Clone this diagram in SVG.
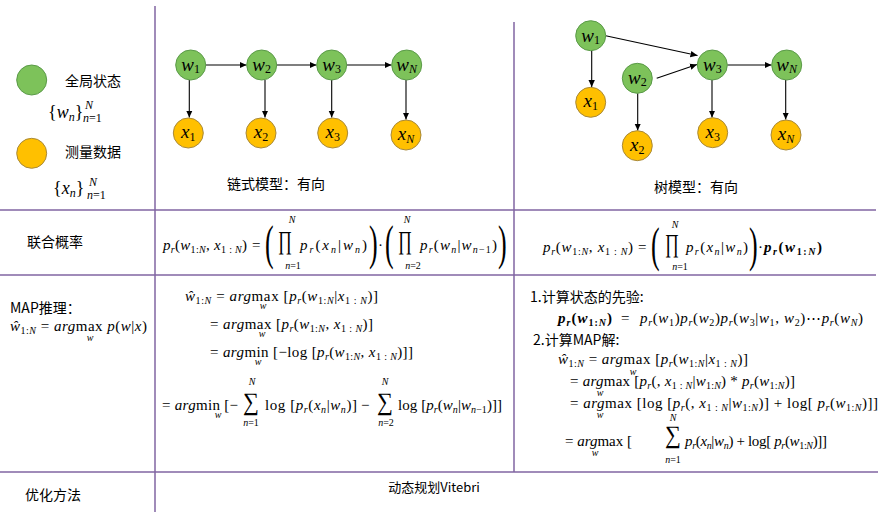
<svg xmlns="http://www.w3.org/2000/svg" width="888" height="512" viewBox="0 0 888 512">
<defs>
<style>
.ln{stroke:#8064A2;stroke-width:1.5;fill:none}
.g{fill:#7DC25A;stroke:#5A9A48;stroke-width:1}
.o{fill:#FFC000;stroke:#A8893A;stroke-width:1}
.ar{stroke:#000;stroke-width:1.1;fill:none;marker-end:url(#ah)}
.cn{font-family:"Noto Sans CJK SC","Noto Sans",sans-serif;font-size:14px;fill:#000}
.m{font-family:"Liberation Serif",serif;font-style:italic;font-size:15px;fill:#000}
.u{font-style:normal}
.b{font-weight:bold}
.s{font-size:10px}
.nl{font-family:"Liberation Serif",serif;font-style:italic;font-size:19px;fill:#000}
.ns{font-size:12px;font-style:normal}
.big{font-family:"Liberation Serif",serif;font-size:52px;fill:#000}
.op{font-family:"Liberation Serif",serif;font-size:36px;fill:#000}
.lim{font-family:"Liberation Serif",serif;font-style:italic;font-size:10px;fill:#000}
</style>
<marker id="ah" markerWidth="8" markerHeight="8" refX="7" refY="4" orient="auto" markerUnits="userSpaceOnUse">
<path d="M0,0.8 L7,4 L0,7.2 Z" fill="#000"/>
</marker>
</defs>
<rect width="888" height="512" fill="#fff"/>

<g id="grid">
<path class="ln" d="M155 6 V512"/>
<path class="ln" d="M514 22 V472"/>
<path class="ln" d="M0 210 H876"/>
<path class="ln" d="M0 275 H876"/>
<path class="ln" d="M0 472 H878"/>
</g>

<g id="legend">
<g id="legend-w"><circle class="g" cx="31.7" cy="80" r="15"/><text class="cn" x="65" y="86">全局状态</text>
<text class="m" style="font-size:18px" x="48" y="118"><tspan class="u">{</tspan>w<tspan style="font-size:12px" dy="3">n</tspan><tspan class="u" dy="-3">}</tspan></text>
<text class="m" style="font-size:12px" x="85" y="109">N</text>
<text class="m" style="font-size:12px" x="83" y="122">n<tspan class="u">=1</tspan></text></g>
<g id="legend-x"><circle class="o" cx="31.7" cy="153.3" r="15"/><text class="cn" x="65" y="157">测量数据</text>
<text class="m" style="font-size:18px" x="53" y="194"><tspan class="u">{</tspan>x<tspan style="font-size:12px" dy="3">n</tspan><tspan class="u" dy="-3">}</tspan></text>
<text class="m" style="font-size:12px" x="89" y="186">N</text>
<text class="m" style="font-size:12px" x="87" y="199">n<tspan class="u">=1</tspan></text></g>
</g>

<g id="connectors">
<path class="ar" d="M206 65 H246.5"/>
<path class="ar" d="M277 65 H316.5"/>
<path class="ar" d="M347 65 H391.5"/>
<path class="ar" d="M189.3 80 V117.5"/>
<path class="ar" d="M265 80 V117.5"/>
<path class="ar" d="M331.7 80 V117.5"/>
<path class="ar" d="M406 80 V119.5"/>
<path class="ar" d="M605.7 35.7 L697.5 55.5"/>
<path class="ar" d="M656.7 78.3 L697 64.5"/>
<path class="ar" d="M727.3 65 H771.5"/>
<path class="ar" d="M591.7 50.7 V87"/>
<path class="ar" d="M637.7 93.3 V130.5"/>
<path class="ar" d="M712 80 V117.5"/>
<path class="ar" d="M785.7 80 V119.5"/>
</g>

<g id="chain-w1"><circle class="g" cx="190.7" cy="65" r="15"/><text class="nl" x="190.7" y="71" text-anchor="middle">w<tspan class="ns" dy="2">1</tspan></text></g>
<g id="chain-w2"><circle class="g" cx="261.7" cy="65" r="15"/><text class="nl" x="261.7" y="71" text-anchor="middle">w<tspan class="ns" dy="2">2</tspan></text></g>
<g id="chain-w3"><circle class="g" cx="331.7" cy="65" r="15"/><text class="nl" x="331.7" y="71" text-anchor="middle">w<tspan class="ns" dy="2">3</tspan></text></g>
<g id="chain-wN"><circle class="g" cx="406.7" cy="65" r="15"/><text class="nl" x="406.7" y="71" text-anchor="middle">w<tspan class="ns" dy="2" style="font-style:italic">N</tspan></text></g>
<g id="chain-x1"><circle class="o" cx="188.3" cy="133" r="15"/><text class="nl" x="188.3" y="138" text-anchor="middle">x<tspan class="ns" dy="3">1</tspan></text></g>
<g id="chain-x2"><circle class="o" cx="261" cy="133" r="15"/><text class="nl" x="261" y="138" text-anchor="middle">x<tspan class="ns" dy="3">2</tspan></text></g>
<g id="chain-x3"><circle class="o" cx="332.7" cy="133" r="15"/><text class="nl" x="332.7" y="138" text-anchor="middle">x<tspan class="ns" dy="3">3</tspan></text></g>
<g id="chain-xN"><circle class="o" cx="406" cy="135" r="15"/><text class="nl" x="406" y="140" text-anchor="middle">x<tspan class="ns" dy="3" style="font-style:italic">N</tspan></text></g>
<text class="cn" x="227" y="189">链式模型：有向</text>

<g id="tree-w1"><circle class="g" cx="590.7" cy="35.7" r="15"/><text class="nl" x="590.7" y="41.7" text-anchor="middle">w<tspan class="ns" dy="2">1</tspan></text></g>
<g id="tree-w2"><circle class="g" cx="637.3" cy="78.3" r="15"/><text class="nl" x="637.3" y="84.3" text-anchor="middle">w<tspan class="ns" dy="2">2</tspan></text></g>
<g id="tree-w3"><circle class="g" cx="712.3" cy="65" r="15"/><text class="nl" x="712.3" y="71" text-anchor="middle">w<tspan class="ns" dy="2">3</tspan></text></g>
<g id="tree-wN"><circle class="g" cx="786.7" cy="65" r="15"/><text class="nl" x="786.7" y="71" text-anchor="middle">w<tspan class="ns" dy="2" style="font-style:italic">N</tspan></text></g>
<g id="tree-x1"><circle class="o" cx="590.7" cy="102.3" r="15"/><text class="nl" x="590.7" y="107.3" text-anchor="middle">x<tspan class="ns" dy="3">1</tspan></text></g>
<g id="tree-x2"><circle class="o" cx="637.3" cy="145.7" r="15"/><text class="nl" x="637.3" y="150.7" text-anchor="middle">x<tspan class="ns" dy="3">2</tspan></text></g>
<g id="tree-x3"><circle class="o" cx="712.7" cy="132.7" r="15"/><text class="nl" x="712.7" y="137.7" text-anchor="middle">x<tspan class="ns" dy="3">3</tspan></text></g>
<g id="tree-xN"><circle class="o" cx="786" cy="135" r="15"/><text class="nl" x="786" y="140" text-anchor="middle">x<tspan class="ns" dy="3" style="font-style:italic">N</tspan></text></g>
<text class="cn" x="654" y="192">树模型：有向</text>

<g id="joint">
<text class="cn" x="27" y="247">联合概率</text>
<text class="m" x="163" y="250" textLength="84">p<tspan class="s" dy="3">r</tspan><tspan class="u" dy="-3">(</tspan>w<tspan class="s" dy="3"><tspan class="u">1:</tspan>N</tspan><tspan class="u" dy="-3">, </tspan>x<tspan class="s" dy="3"><tspan class="u">1 : </tspan>N</tspan><tspan class="u" dy="-3">)</tspan></text>
<text class="m u" x="252" y="250">=</text>
<text class="big" transform="translate(265,259) scale(0.5,0.95)">(</text>
<text class="op" transform="translate(278,249) scale(0.47,0.72)">∏</text>
<text class="lim" x="292" y="223" text-anchor="middle">N</text>
<text class="lim" x="293" y="269" text-anchor="middle">n<tspan class="u">=1</tspan></text>
<text class="m" x="300" y="250" textLength="67">p<tspan class="s" dy="3">r</tspan><tspan class="u" dy="-3">(</tspan>x<tspan class="s" dy="3">n</tspan><tspan class="u" dy="-3">|</tspan>w<tspan class="s" dy="3">n</tspan><tspan class="u" dy="-3">)</tspan></text>
<text class="big" transform="translate(369,259) scale(0.5,0.95)">)</text>
<text class="m u" x="378" y="250">·</text>
<text class="big" transform="translate(385,259) scale(0.5,0.95)">(</text>
<text class="op" transform="translate(398,249) scale(0.47,0.72)">∏</text>
<text class="lim" x="407" y="223" text-anchor="middle">N</text>
<text class="lim" x="413" y="269" text-anchor="middle">n<tspan class="u">=2</tspan></text>
<text class="m" x="420" y="250" textLength="77">p<tspan class="s" dy="3">r</tspan><tspan class="u" dy="-3">(</tspan>w<tspan class="s" dy="3">n</tspan><tspan class="u" dy="-3">|</tspan>w<tspan class="s" dy="3">n<tspan class="u">−1</tspan></tspan><tspan class="u" dy="-3">)</tspan></text>
<text class="big" transform="translate(498,259) scale(0.5,0.95)">)</text>

<text class="m" x="543" y="252" textLength="90">p<tspan class="s" dy="3">r</tspan><tspan class="u" dy="-3">(</tspan>w<tspan class="s" dy="3"><tspan class="u">1:</tspan>N</tspan><tspan class="u" dy="-3">, </tspan>x<tspan class="s" dy="3"><tspan class="u">1 : </tspan>N</tspan><tspan class="u" dy="-3">)</tspan></text>
<text class="m u" x="638" y="252">=</text>
<text class="big" transform="translate(651,261) scale(0.5,0.95)">(</text>
<text class="op" transform="translate(665,251.5) scale(0.47,0.72)">∏</text>
<text class="lim" x="675" y="228" text-anchor="middle">N</text>
<text class="lim" x="680" y="270" text-anchor="middle">n<tspan class="u">=1</tspan></text>
<text class="m" x="686" y="252" textLength="62">p<tspan class="s" dy="3">r</tspan><tspan class="u" dy="-3">(</tspan>x<tspan class="s" dy="3">n</tspan><tspan class="u" dy="-3">|</tspan>w<tspan class="s" dy="3">n</tspan><tspan class="u" dy="-3">)</tspan></text>
<text class="big" transform="translate(749,261) scale(0.5,0.95)">)</text>
<text class="m u" x="758" y="252">·</text>
<text class="m b" x="764" y="252" textLength="58">p<tspan class="s" dy="3">r</tspan><tspan class="u" dy="-3">(</tspan>w<tspan class="s" dy="3"><tspan class="u">1:</tspan>N</tspan><tspan class="u" dy="-3">)</tspan></text>
</g>

<g id="map-left">
<text class="cn" x="10" y="313">MAP推理：</text>
<text class="m" x="10" y="331" textLength="137">ŵ<tspan class="s" dy="3"><tspan class="u">1:</tspan>N</tspan><tspan dy="-3" class="u"> = </tspan>arg<tspan class="u">max </tspan>p<tspan class="u">(</tspan>w<tspan class="u">|</tspan>x<tspan class="u">)</tspan></text>
<text class="lim" x="90" y="341" text-anchor="middle">w</text>
</g>

<g id="map-chain">
<text class="m" x="185" y="301" textLength="193">ŵ<tspan class="s" dy="3"><tspan class="u">1:</tspan>N</tspan><tspan dy="-3" class="u"> = </tspan>arg<tspan class="u">max [</tspan>p<tspan class="s" dy="3">r</tspan><tspan class="u" dy="-3">(</tspan>w<tspan class="s" dy="3"><tspan class="u">1:</tspan>N</tspan><tspan class="u" dy="-3">|</tspan>x<tspan class="s" dy="3"><tspan class="u">1 : </tspan>N</tspan><tspan class="u" dy="-3">)]</tspan></text>
<text class="lim" x="263" y="309" text-anchor="middle">w</text>
<text class="m" x="210" y="329" textLength="163"><tspan class="u">= </tspan>arg<tspan class="u">max [</tspan>p<tspan class="s" dy="3">r</tspan><tspan class="u" dy="-3">(</tspan>w<tspan class="s" dy="3"><tspan class="u">1:</tspan>N</tspan><tspan class="u" dy="-3">, </tspan>x<tspan class="s" dy="3"><tspan class="u">1 : </tspan>N</tspan><tspan class="u" dy="-3">)]</tspan></text>
<text class="lim" x="262" y="337" text-anchor="middle">w</text>
<text class="m" x="210" y="357" textLength="203"><tspan class="u">= </tspan>arg<tspan class="u">min [−log [</tspan>p<tspan class="s" dy="3">r</tspan><tspan class="u" dy="-3">(</tspan>w<tspan class="s" dy="3"><tspan class="u">1:</tspan>N</tspan><tspan class="u" dy="-3">, </tspan>x<tspan class="s" dy="3"><tspan class="u">1 : </tspan>N</tspan><tspan class="u" dy="-3">)]]</tspan></text>
<text class="lim" x="258" y="365" text-anchor="middle">w</text>
<text class="m" x="162" y="410" textLength="76"><tspan class="u">= </tspan>arg<tspan class="u">min [−</tspan></text>
<text class="lim" x="218" y="418" text-anchor="middle">w</text>
<text class="op" transform="translate(243,410) scale(0.62,0.7)">∑</text>
<text class="lim" x="252" y="385" text-anchor="middle">N</text>
<text class="lim" x="251" y="426" text-anchor="middle">n<tspan class="u">=1</tspan></text>
<text class="m" x="265" y="410" textLength="92"><tspan class="u">log [</tspan>p<tspan class="s" dy="3">r</tspan><tspan class="u" dy="-3">(</tspan>x<tspan class="s" dy="3">n</tspan><tspan class="u" dy="-3">|</tspan>w<tspan class="s" dy="3">n</tspan><tspan class="u" dy="-3">)]</tspan></text>
<text class="m u" x="361" y="410">−</text>
<text class="op" transform="translate(377,410) scale(0.62,0.7)">∑</text>
<text class="lim" x="385" y="385" text-anchor="middle">N</text>
<text class="lim" x="386" y="426" text-anchor="middle">n<tspan class="u">=2</tspan></text>
<text class="m" x="398" y="410" textLength="104"><tspan class="u">log [</tspan>p<tspan class="s" dy="3">r</tspan><tspan class="u" dy="-3">(</tspan>w<tspan class="s" dy="3">n</tspan><tspan class="u" dy="-3">|</tspan>w<tspan class="s" dy="3">n<tspan class="u">−1</tspan></tspan><tspan class="u" dy="-3">)]]</tspan></text>
</g>

<g id="map-tree">
<text class="cn" x="530" y="302">1.计算状态的先验:</text>
<text class="m b" x="558" y="323" textLength="54">p<tspan class="s" dy="3">r</tspan><tspan class="u" dy="-3">(</tspan>w<tspan class="s" dy="3"><tspan class="u">1:</tspan>N</tspan><tspan class="u" dy="-3">)</tspan></text>
<text class="m u" x="621" y="323">=</text>
<text class="m" x="640" y="323" textLength="223">p<tspan class="s" dy="3">r</tspan><tspan class="u" dy="-3">(</tspan>w<tspan class="s u" dy="3">1</tspan><tspan class="u" dy="-3">)</tspan>p<tspan class="s" dy="3">r</tspan><tspan class="u" dy="-3">(</tspan>w<tspan class="s u" dy="3">2</tspan><tspan class="u" dy="-3">)</tspan>p<tspan class="s" dy="3">r</tspan><tspan class="u" dy="-3">(</tspan>w<tspan class="s u" dy="3">3</tspan><tspan class="u" dy="-3">|</tspan>w<tspan class="s u" dy="3">1</tspan><tspan class="u" dy="-3">, </tspan>w<tspan class="s u" dy="3">2</tspan><tspan class="u" dy="-3">)⋯</tspan>p<tspan class="s" dy="3">r</tspan><tspan class="u" dy="-3">(</tspan>w<tspan class="s" dy="3">N</tspan><tspan class="u" dy="-3">)</tspan></text>
<text class="cn" x="533" y="345">2.计算MAP解:</text>
<text class="m" x="558" y="364" textLength="190">ŵ<tspan class="s" dy="3"><tspan class="u">1:</tspan>N</tspan><tspan dy="-3" class="u"> = </tspan>arg<tspan class="u">max [</tspan>p<tspan class="s" dy="3">r</tspan><tspan class="u" dy="-3">(</tspan>w<tspan class="s" dy="3"><tspan class="u">1:</tspan>N</tspan><tspan class="u" dy="-3">|</tspan>x<tspan class="s" dy="3"><tspan class="u">1 : </tspan>N</tspan><tspan class="u" dy="-3">)]</tspan></text>
<text class="lim" x="633" y="375" text-anchor="middle">w</text>
<text class="m" x="570" y="386" textLength="225"><tspan class="u">= </tspan>arg<tspan class="u">max [</tspan>p<tspan class="s" dy="3">r</tspan><tspan class="u" dy="-3">(, </tspan>x<tspan class="s" dy="3"><tspan class="u">1 : </tspan>N</tspan><tspan class="u" dy="-3">|</tspan>w<tspan class="s" dy="3"><tspan class="u">1:</tspan>N</tspan><tspan class="u" dy="-3">) * </tspan>p<tspan class="s" dy="3">r</tspan><tspan class="u" dy="-3">(</tspan>w<tspan class="s" dy="3"><tspan class="u">1:</tspan>N</tspan><tspan class="u" dy="-3">)]</tspan></text>
<text class="lim" x="600" y="396" text-anchor="middle">w</text>
<text class="m" x="570" y="408" textLength="308"><tspan class="u">= </tspan>arg<tspan class="u">max [log [</tspan>p<tspan class="s" dy="3">r</tspan><tspan class="u" dy="-3">(, </tspan>x<tspan class="s" dy="3"><tspan class="u">1 : </tspan>N</tspan><tspan class="u" dy="-3">|</tspan>w<tspan class="s" dy="3"><tspan class="u">1:</tspan>N</tspan><tspan class="u" dy="-3">)] + log[ </tspan>p<tspan class="s" dy="3">r</tspan><tspan class="u" dy="-3">(</tspan>w<tspan class="s" dy="3"><tspan class="u">1:</tspan>N</tspan><tspan class="u" dy="-3">)]]</tspan></text>
<text class="lim" x="600" y="418" text-anchor="middle">w</text>
<text class="m" x="565" y="446" textLength="67"><tspan class="u">= </tspan>arg<tspan class="u">max [</tspan></text>
<text class="lim" x="595" y="456" text-anchor="middle">w</text>
<text class="op" transform="translate(665,443) scale(0.62,0.7)">∑</text>
<text class="lim" x="673" y="421" text-anchor="middle">N</text>
<text class="lim" x="673" y="463" text-anchor="middle">n<tspan class="u">=1</tspan></text>
<text class="m" x="685" y="446" textLength="142">p<tspan class="s" dy="3">r</tspan><tspan class="u" dy="-3">(</tspan>x<tspan class="s" dy="3">n</tspan><tspan class="u" dy="-3">|</tspan>w<tspan class="s" dy="3">n</tspan><tspan class="u" dy="-3">) + log[ </tspan>p<tspan class="s" dy="3">r</tspan><tspan class="u" dy="-3">(</tspan>w<tspan class="s" dy="3"><tspan class="u">1:</tspan>N</tspan><tspan class="u" dy="-3">)]]</tspan></text>
</g>

<g id="optim">
<text class="cn" x="25" y="500">优化方法</text>
<text class="cn" x="434" y="492" text-anchor="middle" style="font-size:13px">动态规划Vitebri</text>
</g>
</svg>
